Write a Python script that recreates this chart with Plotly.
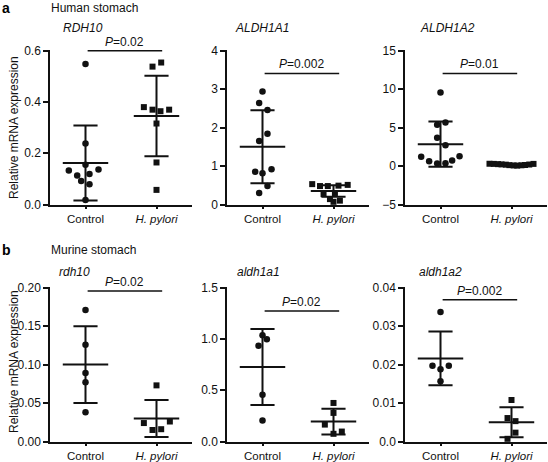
import plotly.graph_objects as go

W, H = 548, 462
FONT = "Liberation Sans, Arial, sans-serif"
INK = "#111111"

groups = ["Control", "<i>H. pylori</i>"]

# ---------- data ----------
rdh10_h_ctrl = [0.548, 0.238, 0.155, 0.133, 0.137, 0.113, 0.119, 0.092, 0.079, 0.018]
rdh10_h_ctrl_jit = [0, 0, 0, -0.235, 0.183, -0.117, 0.056, -0.061, 0.056, 0]
rdh10_h_hp = [0.538, 0.554, 0.380, 0.370, 0.364, 0.370, 0.316, 0.164, 0.057]
rdh10_h_hp_jit = [-0.056, 0.066, -0.178, -0.056, 0.056, 0.178, 0, 0, 0]
rdh10_h_mean = [0.162, 0.345]
rdh10_h_sd = [0.146, 0.157]

aldh1a1_h_ctrl = [2.94, 2.64, 2.46, 1.84, 1.65, 0.85, 0.81, 0.92, 0.48, 0.30]
aldh1a1_h_ctrl_jit = [0, -0.047, 0.07, 0.07, -0.047, -0.103, 0.0, 0.127, 0.07, -0.047]
aldh1a1_h_hp = [0.53, 0.48, 0.48, 0.49, 0.51, 0.27, 0.30, 0.14, 0.10, 0.07]
aldh1a1_h_hp_jit = [-0.30, -0.19, -0.08, 0.07, 0.20, -0.14, 0.02, -0.05, 0.09, 0.0]
aldh1a1_h_mean = [1.50, 0.35]
aldh1a1_h_sd = [0.95, 0.15]

aldh1a2_h_ctrl = [9.56, 5.36, 5.66, 3.67, 2.71, 1.20, 0.64, 0.33, 0.38, 0.73, 1.29]
aldh1a2_h_ctrl_jit = [0, -0.047, 0.07, -0.047, 0.07, -0.272, -0.16, -0.047, 0.07, 0.164, 0.268]
aldh1a2_h_hp = [0.30, 0.28, 0.25, 0.22, 0.18, 0.12, 0.08, 0.06, 0.10, 0.14, 0.20, 0.28]
aldh1a2_h_hp_jit = [-0.31, -0.25, -0.19, -0.14, -0.08, -0.03, 0.03, 0.08, 0.14, 0.19, 0.25, 0.31]
aldh1a2_h_mean = [2.85, 0.17]
aldh1a2_h_sd = [2.93, 0.06]

rdh10_m_ctrl = [0.171, 0.126, 0.089, 0.077, 0.038]
rdh10_m_ctrl_jit = [0, 0, 0, 0, 0]
rdh10_m_hp = [0.073, 0.024, 0.026, 0.015, 0.016]
rdh10_m_hp_jit = [0, -0.178, 0.188, -0.056, 0.066]
rdh10_m_mean = [0.100, 0.030]
rdh10_m_sd = [0.050, 0.024]

aldh1a1_m_ctrl = [1.037, 0.998, 0.933, 0.457, 0.204]
aldh1a1_m_ctrl_jit = [0, 0.061, -0.056, 0, 0]
aldh1a1_m_hp = [0.376, 0.279, 0.165, 0.075, 0.097]
aldh1a1_m_hp_jit = [0, 0, -0.122, 0, 0.117]
aldh1a1_m_mean = [0.727, 0.194]
aldh1a1_m_sd = [0.370, 0.126]

aldh1a2_m_ctrl = [0.0337, 0.0197, 0.0188, 0.0197, 0.0157]
aldh1a2_m_ctrl_jit = [0, -0.113, 0, 0.117, 0]
aldh1a2_m_hp = [0.0108, 0.0061, 0.0053, 0.0023, 0.0007]
aldh1a2_m_hp_jit = [0, -0.056, 0.056, 0.056, -0.056]
aldh1a2_m_mean = [0.0216, 0.0050]
aldh1a2_m_sd = [0.0070, 0.0039]

p_labels = ["0.02", "0.002", "0.01", "0.02", "0.02", "0.002"]
p_levels = [0.6, 3.41, 12.05, 0.1957, 1.273, 0.0369]

gene_titles = ["RDH10", "ALDH1A1", "ALDH1A2", "rdh10", "aldh1a1", "aldh1a2"]

tick_vals = [
    [0, 0.2, 0.4, 0.6],
    [0, 1, 2, 3, 4],
    [-5, 0, 5, 10, 15],
    [0, 0.05, 0.10, 0.15, 0.20],
    [0, 0.5, 1.0, 1.5],
    [0, 0.01, 0.02, 0.03, 0.04],
]
tick_text = [
    ["0.0", "0.2", "0.4", "0.6"],
    ["0", "1", "2", "3", "4"],
    ["\u22125", "0", "5", "10", "15"],
    ["0.00", "0.05", "0.10", "0.15", "0.20"],
    ["0.0", "0.5", "1.0", "1.5"],
    ["0.0", "0.01", "0.02", "0.03", "0.04"],
]
y_ranges = [[0, 0.6], [0, 4], [-5, 15], [0, 0.2], [0, 1.5], [0, 0.04]]

panels = [
    (rdh10_h_ctrl, rdh10_h_ctrl_jit, rdh10_h_hp, rdh10_h_hp_jit, rdh10_h_mean, rdh10_h_sd),
    (aldh1a1_h_ctrl, aldh1a1_h_ctrl_jit, aldh1a1_h_hp, aldh1a1_h_hp_jit, aldh1a1_h_mean, aldh1a1_h_sd),
    (aldh1a2_h_ctrl, aldh1a2_h_ctrl_jit, aldh1a2_h_hp, aldh1a2_h_hp_jit, aldh1a2_h_mean, aldh1a2_h_sd),
    (rdh10_m_ctrl, rdh10_m_ctrl_jit, rdh10_m_hp, rdh10_m_hp_jit, rdh10_m_mean, rdh10_m_sd),
    (aldh1a1_m_ctrl, aldh1a1_m_ctrl_jit, aldh1a1_m_hp, aldh1a1_m_hp_jit, aldh1a1_m_mean, aldh1a1_m_sd),
    (aldh1a2_m_ctrl, aldh1a2_m_ctrl_jit, aldh1a2_m_hp, aldh1a2_m_hp_jit, aldh1a2_m_mean, aldh1a2_m_sd),
]

# ---------- layout geometry (pixels) ----------
x_px = [(50, 192), (227, 369), (405, 547)]
y_px = [(49.5, 204.5), (286.5, 441.5)]
X_RANGE = [-0.5, 1.5]
MEAN_HW = 0.32
CAP_HW = 0.17

fig = go.Figure()
layout_axes = {}
annotations = []

for i, (ctrl, cj, hp, hj, mean, sd) in enumerate(panels):
    row, col = divmod(i, 3)
    n = i + 1
    xa = "x" if n == 1 else f"x{n}"
    ya = "y" if n == 1 else f"y{n}"
    xkey = "xaxis" if n == 1 else f"xaxis{n}"
    ykey = "yaxis" if n == 1 else f"yaxis{n}"

    x0, x1 = x_px[col]
    top, bot = y_px[row]
    lo, hi = y_ranges[i]
    span = hi - lo
    hi_ext = hi + span * 0.008

    layout_axes[xkey] = dict(
        domain=[x0 / W, x1 / W], anchor=ya, range=X_RANGE, automargin=False,
        tickmode="array", tickvals=[0, 1], ticktext=groups,
        showline=True, linecolor=INK, linewidth=1.5,
        ticks="outside", ticklen=3, tickwidth=1.5, tickcolor=INK,
        showgrid=False, zeroline=False, fixedrange=True,
        tickfont=dict(family=FONT, size=11.5, color=INK),
    )
    layout_axes[ykey] = dict(
        domain=[1 - bot / H, 1 - top / H], anchor=xa, range=[lo, hi_ext],
        automargin=False,
        tickmode="array", tickvals=tick_vals[i], ticktext=tick_text[i],
        showline=True, linecolor=INK, linewidth=1.5,
        ticks="outside", ticklen=5, tickwidth=1.5, tickcolor=INK,
        showgrid=False, zeroline=False, fixedrange=True,
        tickfont=dict(family=FONT, size=12, color=INK),
    )

    # error bars: mean line, SD vertical and caps
    ex, ey = [], []
    for g in range(2):
        m, s = mean[g], sd[g]
        ex += [g - MEAN_HW, g + MEAN_HW, None, g, g, None,
               g - CAP_HW, g + CAP_HW, None, g - CAP_HW, g + CAP_HW, None]
        ey += [m, m, None, m - s, m + s, None,
               m + s, m + s, None, m - s, m - s, None]
    fig.add_trace(go.Scatter(x=ex, y=ey, xaxis=xa, yaxis=ya, mode="lines",
                             line=dict(color=INK, width=2), hoverinfo="skip",
                             showlegend=False))

    # points
    fig.add_trace(go.Scatter(x=[0 + j for j in cj], y=ctrl, xaxis=xa, yaxis=ya,
                             mode="markers", cliponaxis=False,
                             marker=dict(symbol="circle", size=6.5, color=INK),
                             showlegend=False))
    fig.add_trace(go.Scatter(x=[1 + j for j in hj], y=hp, xaxis=xa, yaxis=ya,
                             mode="markers", cliponaxis=False,
                             marker=dict(symbol="square", size=6, color=INK),
                             showlegend=False))

    # significance line
    pl = p_levels[i]
    fig.add_trace(go.Scatter(x=[0.03, 1.08], y=[pl, pl], xaxis=xa, yaxis=ya,
                             mode="lines", line=dict(color=INK, width=1.5),
                             hoverinfo="skip", showlegend=False))
    annotations.append(dict(
        x=0.555, y=pl, xref=xa, yref=ya, text=f"<i>P</i>=" + p_labels[i],
        showarrow=False, xanchor="center", yanchor="bottom", yshift=0,
        font=dict(family=FONT, size=12, color=INK)))

# gene titles
title_pos = [(61, 28), (233, 28), (418, 28), (57, 272), (235, 272), (417, 272)]
for (tx, ty), t in zip(title_pos, gene_titles):
    annotations.append(dict(x=tx / W, y=1 - ty / H, xref="paper", yref="paper",
                            text=f"<i>{t}</i>", showarrow=False,
                            xanchor="left", yanchor="middle",
                            font=dict(family=FONT, size=12, color=INK)))

# panel letters & section titles
for letter, label, ly in [("a", "Human stomach", 8), ("b", "Murine stomach", 250)]:
    annotations.append(dict(x=0, y=1 - ly / H, xref="paper", yref="paper",
                            text=f"<b>{letter}</b>", showarrow=False,
                            xanchor="left", yanchor="middle",
                            font=dict(family=FONT, size=14, color="#000")))
    annotations.append(dict(x=49 / W, y=1 - ly / H, xref="paper", yref="paper",
                            text=label, showarrow=False,
                            xanchor="left", yanchor="middle",
                            font=dict(family=FONT, size=12, color=INK)))

# y-axis titles
for cy in [128, 362]:
    annotations.append(dict(x=14 / W, y=1 - cy / H, xref="paper", yref="paper",
                            text="Relative mRNA expression", showarrow=False,
                            textangle=-90, xanchor="center", yanchor="middle",
                            font=dict(family=FONT, size=12, color=INK)))

fig.update_layout(
    width=W, height=H,
    margin=dict(l=0, r=0, t=0, b=0, autoexpand=False),
    paper_bgcolor="white", plot_bgcolor="white",
    annotations=annotations,
    **layout_axes,
)

fig.write_html("out.html", config={"displayModeBar": False},
               post_script="document.body.style.margin='0';document.body.style.overflow='hidden';")
